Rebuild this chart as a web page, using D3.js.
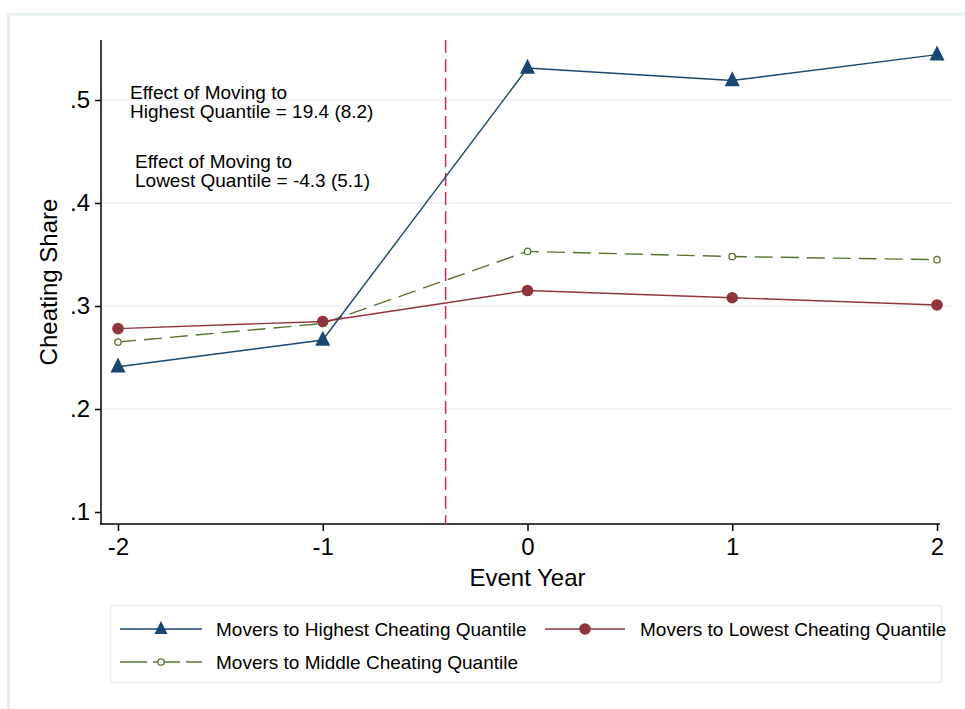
<!DOCTYPE html>
<html>
<head>
<meta charset="utf-8">
<script src="https://cdn.jsdelivr.net/npm/d3@7"></script>
<style>
html,body{margin:0;padding:0;background:#fff;}
svg{display:block;font-family:"Liberation Sans",Arial,sans-serif;}
</style>
</head>
<body>
<svg id="chart" width="965" height="709"></svg>
<script>
const eventYears = [-2, -1, 0, 1, 2];
const highest = [0.241, 0.267, 0.531, 0.519, 0.544];
const lowest  = [0.278, 0.285, 0.315, 0.308, 0.301];
const middle  = [0.265, 0.283, 0.353, 0.348, 0.345];
const yTicks = [0.1, 0.2, 0.3, 0.4, 0.5];
const yTickLabels = [".1", ".2", ".3", ".4", ".5"];
const xTickLabels = ["-2", "-1", "0", "1", "2"];
const eventLine = -0.4;
const seriesNames = ["Movers to Highest Cheating Quantile", "Movers to Lowest Cheating Quantile", "Movers to Middle Cheating Quantile"];
const annotations = [
  ["Effect of Moving to", "Highest Quantile = 19.4 (8.2)"],
  ["Effect of Moving to", "Lowest Quantile = -4.3 (5.1)"]
];

const svg = d3.select("#chart");
const font = "'Liberation Sans', Arial, sans-serif";

// outer frame
svg.append("rect").attr("x", 8.5).attr("y", 14.5).attr("width", 1000).attr("height", 800)
  .attr("fill", "#fff").attr("stroke", "#e8eff1").attr("stroke-width", 3);

const x = d3.scaleLinear().domain([-2, 2]).range([118, 937]);
const y = d3.scaleLinear().domain([0.1, 0.5]).range([512, 100]);
const plotLeft = 101, plotRight = 952, plotTop = 40, plotBottom = 524;

// gridlines
svg.append("g").selectAll("line").data(yTicks.slice(1)).join("line")
  .attr("x1", plotLeft).attr("x2", plotRight)
  .attr("y1", d => y(d)).attr("y2", d => y(d))
  .attr("stroke", "#eaf1f3").attr("stroke-width", 1.6);

// y axis
const yAxis = d3.axisLeft(y).tickValues(yTicks).tickFormat((d, i) => yTickLabels[i]).tickSize(6).tickPadding(5);
const gy = svg.append("g").attr("transform", `translate(${plotLeft},0)`).call(yAxis);
gy.select(".domain").remove();
gy.selectAll(".tick line").attr("stroke", "#000").attr("stroke-width", 1.5);
gy.selectAll(".tick text").attr("font-size", 24).attr("font-family", font).attr("fill", "#000");
svg.append("line").attr("x1", plotLeft).attr("x2", plotLeft).attr("y1", plotTop).attr("y2", plotBottom + 0.75)
  .attr("stroke", "#000").attr("stroke-width", 1.5);

// x axis
const xAxis = d3.axisBottom(x).tickValues(eventYears).tickFormat((d, i) => xTickLabels[i]).tickSize(7).tickPadding(7);
const gx = svg.append("g").attr("transform", `translate(0,${plotBottom})`).call(xAxis);
gx.select(".domain").remove();
gx.selectAll(".tick line").attr("stroke", "#000").attr("stroke-width", 1.5);
gx.selectAll(".tick text").attr("font-size", 24).attr("font-family", font).attr("fill", "#000");
svg.append("line").attr("x1", plotLeft - 0.75).attr("x2", 940).attr("y1", plotBottom).attr("y2", plotBottom)
  .attr("stroke", "#000").attr("stroke-width", 1.5);

// axis titles
svg.append("text").attr("x", x(0)).attr("y", 586).attr("text-anchor", "middle")
  .attr("font-size", 24).attr("font-family", font).text("Event Year");
svg.append("text").attr("transform", `translate(57,${(plotTop + plotBottom) / 2}) rotate(-90)`)
  .attr("text-anchor", "middle").attr("font-size", 24).attr("font-family", font).text("Cheating Share");

// vertical dashed line
svg.append("line").attr("x1", x(eventLine)).attr("x2", x(eventLine)).attr("y1", plotTop).attr("y2", plotBottom)
  .attr("stroke", "#d8264f").attr("stroke-width", 1.5).attr("stroke-dasharray", "13,6");

// annotations
const annPos = [[130, 99], [135, 168]];
annotations.forEach((lines, k) => {
  const t = svg.append("text").attr("font-size", 19).attr("font-family", font).attr("fill", "#000");
  lines.forEach((s, j) => t.append("tspan").attr("x", annPos[k][0]).attr("y", annPos[k][1] + j * 19).text(s));
});

const line = d3.line().x((d, i) => x(eventYears[i])).y(d => y(d));
const colors = ["#1a476f", "#90353b", "#55752f"];

function triangle(g, cx, cy, s) {
  g.append("path").attr("d", `M${cx},${cy - s * 0.62}L${cx + s / 2},${cy + s * 0.38}L${cx - s / 2},${cy + s * 0.38}Z`).attr("fill", colors[0]);
}
function solidCircle(g, cx, cy) {
  g.append("circle").attr("cx", cx).attr("cy", cy).attr("r", 5.8).attr("fill", colors[1]);
}
function hollowCircle(g, cx, cy) {
  g.append("circle").attr("cx", cx).attr("cy", cy).attr("r", 3.2).attr("fill", "#fff").attr("stroke", colors[2]).attr("stroke-width", 1.3);
}

// series
const gs = svg.append("g");
gs.append("path").datum(middle).attr("d", line).attr("fill", "none").attr("stroke", colors[2]).attr("stroke-width", 1.4).attr("stroke-dasharray", "18,8");
gs.append("path").datum(lowest).attr("d", line).attr("fill", "none").attr("stroke", colors[1]).attr("stroke-width", 1.4);
gs.append("path").datum(highest).attr("d", line).attr("fill", "none").attr("stroke", colors[0]).attr("stroke-width", 1.4);
middle.forEach((v, i) => hollowCircle(gs, x(eventYears[i]), y(v)));
lowest.forEach((v, i) => solidCircle(gs, x(eventYears[i]), y(v)));
highest.forEach((v, i) => triangle(gs, x(eventYears[i]), y(v), 15));

// legend
const lg = svg.append("g");
lg.append("rect").attr("x", 110.5).attr("y", 605.5).attr("width", 831).attr("height", 77)
  .attr("fill", "#fff").attr("stroke", "#e8eff1").attr("stroke-width", 1.5);
const legendItems = [
  {x0: 120, x1: 202, y: 629, c: colors[0], dash: null, m: triangle, tx: 216},
  {x0: 545, x1: 625, y: 629, c: colors[1], dash: null, m: solidCircle, tx: 640},
  {x0: 120, x1: 202, y: 662, c: colors[2], dash: "27,6", m: hollowCircle, tx: 216}
];
legendItems.forEach((it, i) => {
  const l = lg.append("line").attr("x1", it.x0).attr("x2", it.x1).attr("y1", it.y).attr("y2", it.y)
    .attr("stroke", it.c).attr("stroke-width", 1.4);
  if (it.dash) l.attr("stroke-dasharray", it.dash);
  const cx = (it.x0 + it.x1) / 2;
  if (it.m === triangle) triangle(lg, cx, it.y, 13); else it.m(lg, cx, it.y);
  lg.append("text").attr("x", it.tx).attr("y", it.y + 6.5).attr("font-size", 19).attr("font-family", font).text(seriesNames[i]);
});
</script>
</body>
</html>
